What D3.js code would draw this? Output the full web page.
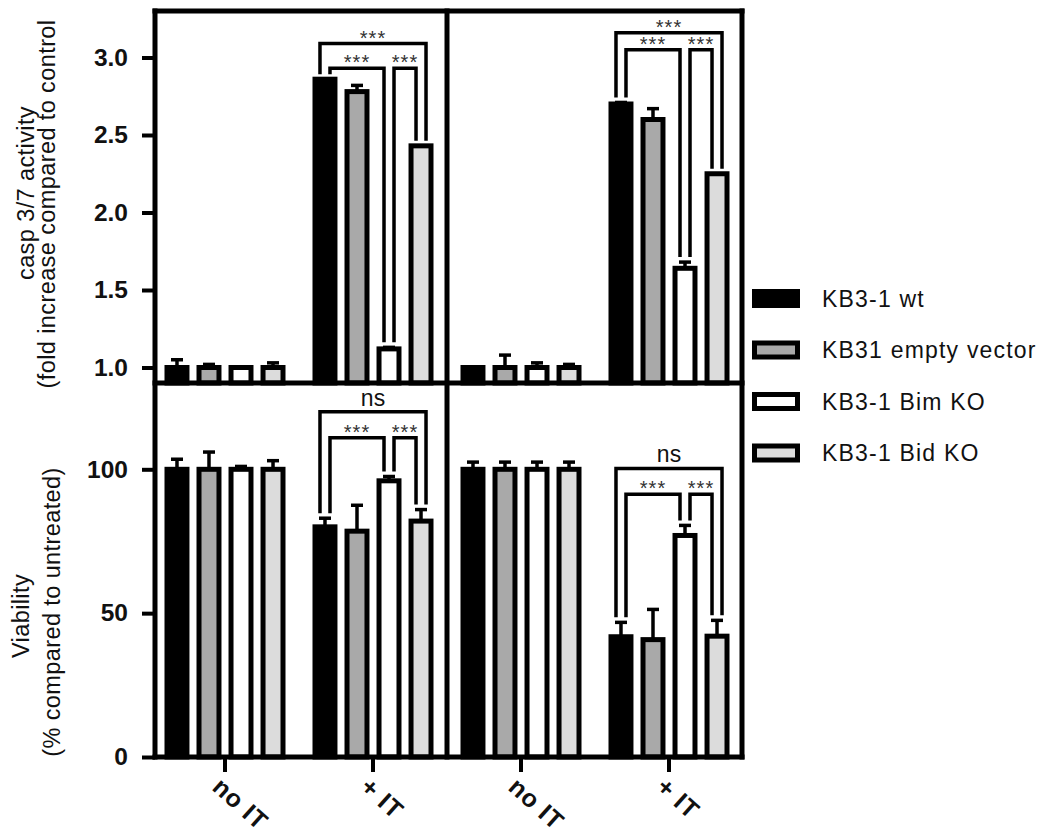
<!DOCTYPE html>
<html>
<head>
<meta charset="utf-8">
<script src="https://cdn.jsdelivr.net/npm/d3@7"></script>
<style>
  body { margin: 0; background: #fff; }
  text { font-family: 'Liberation Sans', Arial, sans-serif; }
</style>
</head>
<body>
<div class="canvas"></div>
<script>
// series / categories
const series = ['KB3-1 wt', 'KB31 empty vector', 'KB3-1 Bim KO', 'KB3-1 Bid KO']
const fills = ['#000000', '#a9a9a9', '#ffffff', '#dcdcdc']
const groups = ['no IT', '+ IT']
const columns = ['left', 'right']

// casp 3/7 activity, left column
const caspLeftNoIT = [1.0, 1.0, 1.0, 1.0]
const caspLeftNoITErr = [0.05, 0.02, 0.0, 0.03]
const caspLeftIT = [2.86, 2.78, 1.12, 2.43]
const caspLeftITErr = [0.0, 0.04, 0.01, 0.0]
// casp 3/7 activity, right column
const caspRightNoIT = [1.0, 1.0, 1.0, 1.0]
const caspRightNoITErr = [0.0, 0.08, 0.03, 0.02]
const caspRightIT = [2.70, 2.60, 1.64, 2.25]
const caspRightITErr = [0.01, 0.07, 0.04, 0.0]

// viability, left column
const viabLeftNoIT = [100, 100, 100, 100]
const viabLeftNoITErr = [3.5, 6, 1, 3]
const viabLeftIT = [80, 78.5, 96, 82]
const viabLeftITErr = [3, 9, 1.5, 4]
// viability, right column
const viabRightNoIT = [100, 100, 100, 100]
const viabRightNoITErr = [2.5, 2.5, 2.5, 2.5]
const viabRightIT = [41.8, 40.8, 77, 42]
const viabRightITErr = [5, 10.5, 3.5, 5.5]

// significance brackets within "+ IT": [from, to, level, label]
const caspLeftSig = [[0, 3, 3.09, '***'], [0, 2, 2.93, '***'], [2, 3, 2.93, '***']]
const caspRightSig = [[0, 3, 3.16, '***'], [0, 2, 3.05, '***'], [2, 3, 3.05, '***']]
const viabLeftSig = [[0, 3, 120, 'ns'], [0, 2, 111, '***'], [2, 3, 111, '***']]
const viabRightSig = [[0, 3, 100.3, 'ns'], [0, 2, 91.3, '***'], [2, 3, 91.3, '***']]

const caspTicks = [1.0, 1.5, 2.0, 2.5, 3.0]
const viabTicks = [0, 50, 100]

const svg = d3.select('.canvas').append('svg').attr('width', 1050).attr('height', 834)

const frame = {left: 155, right: 742, split: 447, top: 11, mid: 383, bottom: 757}
const sw = 5 // bar outline

const x = d3.scaleBand()
    .domain(columns.flatMap(c => groups.map(g => `${c}|${g}`)))
    .range([151, 743])

const xs = d3.scaleBand()
    .domain(series)
    .range([-60.5, 60.5])
    .paddingInner(0.22)

const yCasp = d3.scaleLinear().domain([0.9, 3.3]).range([frame.mid, frame.top])
const yViab = d3.scaleLinear().domain([0, 130]).range([frame.bottom, frame.mid])

const panels = [
    {col: 'left', y: yCasp, means: [caspLeftNoIT, caspLeftIT], errs: [caspLeftNoITErr, caspLeftITErr], sig: caspLeftSig},
    {col: 'right', y: yCasp, means: [caspRightNoIT, caspRightIT], errs: [caspRightNoITErr, caspRightITErr], sig: caspRightSig},
    {col: 'left', y: yViab, means: [viabLeftNoIT, viabLeftIT], errs: [viabLeftNoITErr, viabLeftITErr], sig: viabLeftSig},
    {col: 'right', y: yViab, means: [viabRightNoIT, viabRightIT], errs: [viabRightNoITErr, viabRightITErr], sig: viabRightSig},
]

const barCenter = (col, gi, i) => x(`${col}|${groups[gi]}`) + x.bandwidth() / 2 + xs(series[i]) + xs.bandwidth() / 2

panels.forEach(p => {
    const y = p.y
    const base = y.domain()[0]
    const rows = p.means.flatMap((vals, gi) => vals.map((v, i) => ({gi, i, v, e: p.errs[gi][i]})))
    const g = svg.append('g')

    // error bars (upper only)
    const eb = g.selectAll('g.err').data(rows.filter(d => d.e > 0)).enter().append('g')
        .attr('stroke', '#000').attr('stroke-width', 3.5)
    eb.append('line')
        .attr('x1', d => barCenter(p.col, d.gi, d.i)).attr('x2', d => barCenter(p.col, d.gi, d.i))
        .attr('y1', d => y(d.v)).attr('y2', d => y(d.v + d.e))
    eb.append('line')
        .attr('x1', d => barCenter(p.col, d.gi, d.i) - 6).attr('x2', d => barCenter(p.col, d.gi, d.i) + 6)
        .attr('y1', d => y(d.v + d.e)).attr('y2', d => y(d.v + d.e))

    g.selectAll('rect').data(rows).enter().append('rect')
        .attr('x', d => barCenter(p.col, d.gi, d.i) - xs.bandwidth() / 2 + sw / 2)
        .attr('width', xs.bandwidth() - sw)
        .attr('y', d => y(d.v))
        .attr('height', d => y(base) - y(d.v))
        .attr('fill', d => fills[d.i])
        .attr('stroke', '#000')
        .attr('stroke-width', sw)

    // brackets over "+ IT"
    const top = i => y(p.means[1][i] + p.errs[1][i]) - 5
    p.sig.forEach(([a, b, level, label]) => {
        const outer = b - a === series.length - 1
        const off = outer ? -5 : 5
        const xa = barCenter(p.col, 1, a) + off
        const xb = barCenter(p.col, 1, b) - off
        const yl = y(level)
        g.append('path')
            .attr('d', `M${xa},${top(a)}V${yl}H${xb}V${top(b)}`)
            .attr('fill', 'none').attr('stroke', '#000').attr('stroke-width', 3.5)
        const ns = label === 'ns'
        g.append('text')
            .attr('x', (xa + xb) / 2)
            .attr('y', ns ? yl - 6 : yl + 1)
            .attr('text-anchor', 'middle')
            .attr('font-size', ns ? 23 : 20)
            .attr('letter-spacing', ns ? 0 : 1)
            .attr('fill', ns ? '#111' : '#333')
            .text(label)
    })
})

// y axes
const styleAxis = a => {
    a.select('.domain').remove()
    a.selectAll('.tick line').attr('stroke-width', 4)
    a.selectAll('.tick text').attr('font-size', 24.5).attr('font-weight', 'bold').attr('fill', '#111')
}
svg.append('g').attr('transform', `translate(${frame.left},0)`)
    .call(d3.axisLeft(yCasp).tickValues(caspTicks).tickSize(13).tickPadding(14).tickFormat(d3.format('.1f')))
    .call(styleAxis)
svg.append('g').attr('transform', `translate(${frame.left},0)`)
    .call(d3.axisLeft(yViab).tickValues(viabTicks).tickSize(13).tickPadding(14).tickFormat(d3.format('d')))
    .call(styleAxis)

// x axis
const xAxisG = svg.append('g').attr('transform', `translate(0,${frame.bottom})`)
    .call(d3.axisBottom(x).tickSize(15).tickFormat(d => d.split('|')[1]))
    .call(styleAxis)
xAxisG.selectAll('.tick text')
    .attr('font-size', 25)
    .attr('letter-spacing', 0.8)
    .attr('x', 0).attr('y', 0).attr('dy', 0)
    .attr('text-anchor', 'start')
    .attr('transform', 'translate(-14,32) rotate(42)')

// frame lines
const fr = svg.append('g').attr('stroke', '#000').attr('stroke-width', 5).attr('stroke-linecap', 'square')
fr.append('path').attr('d', `M${frame.left},${frame.top}H${frame.right}M${frame.left},${frame.mid}H${frame.right}M${frame.left},${frame.bottom}H${frame.right}`)
fr.append('path').attr('d', `M${frame.left},${frame.top}V${frame.bottom}M${frame.split},${frame.top}V${frame.bottom}M${frame.right},${frame.top}V${frame.bottom}`)

// y titles
const titles = [
    {text: 'casp 3/7 activity', x: 34, y: 193},
    {text: '(fold increase compared to control', x: 55, y: 204},
    {text: 'Viability', x: 29, y: 616},
    {text: '(% compared to untreated)', x: 60, y: 612},
]
svg.selectAll('text.ytitle').data(titles).enter().append('text')
    .attr('class', 'ytitle')
    .attr('transform', d => `translate(${d.x},${d.y}) rotate(-90)`)
    .attr('text-anchor', 'middle')
    .attr('font-size', 23.5)
    .attr('letter-spacing', 0.4)
    .attr('fill', '#111')
    .text(d => d.text)

// legend
const ly = d3.scalePoint().domain(series).range([298.5, 453])
const leg = svg.append('g').attr('transform', 'translate(752,0)')
    .selectAll('g').data(series).enter().append('g')
    .attr('transform', d => `translate(0,${ly(d)})`)
leg.append('rect')
    .attr('x', sw / 2).attr('y', -9.5 + sw / 2)
    .attr('width', 48 - sw).attr('height', 19 - sw)
    .attr('fill', (d, i) => fills[i])
    .attr('stroke', '#000').attr('stroke-width', sw)
leg.append('text')
    .attr('x', 70).attr('dy', '0.36em')
    .attr('font-size', 23)
    .attr('letter-spacing', 1.2)
    .attr('fill', '#111')
    .text(d => d)
</script>
</body>
</html>
